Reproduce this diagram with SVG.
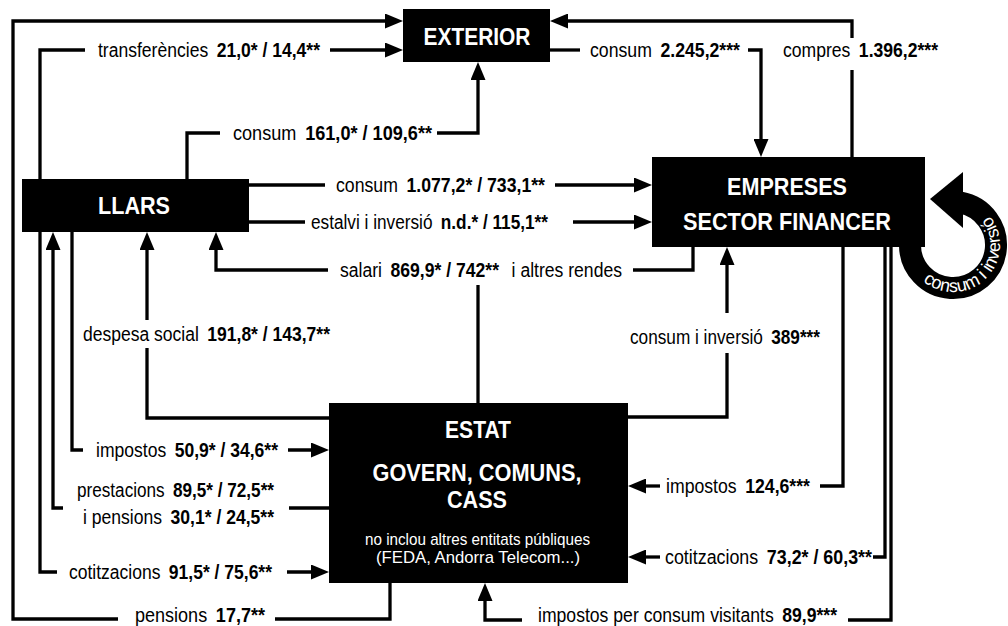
<svg xmlns="http://www.w3.org/2000/svg" width="1008" height="626" viewBox="0 0 1008 626">
<style>
.ln{fill:none;stroke:#000;stroke-width:3.3;stroke-linecap:butt;stroke-linejoin:miter}
.ar{marker-end:url(#ah)}
.lb{font-family:"Liberation Sans",Arial,sans-serif;font-size:19.5px;fill:#000}
.b{font-weight:bold}
.nt{font-family:"Liberation Sans",Arial,sans-serif;font-weight:bold;font-size:23.5px;fill:#fff;text-anchor:middle}
.ns{font-family:"Liberation Sans",Arial,sans-serif;font-size:17px;fill:#fff;text-anchor:middle}
.box{fill:#000}
</style>
<defs>
<marker id="ah" viewBox="0 0 18 15" refX="13" refY="7.5" markerWidth="18" markerHeight="15" markerUnits="userSpaceOnUse" orient="auto"><path d="M0,0 L18,7.5 L0,15 z" fill="#000"/></marker>
<path id="loopText" d="M922.8,281 A47,47 0 0 0 987.9,213.5"/>
</defs>
<rect width="1008" height="626" fill="#fff"/>

<g id="connectors">
<path class="ln" d="M390,583 V619 H275"/>
<path class="ln ar" d="M118,619 H13 V21 H398"/>
<path class="ln" d="M40,179 V50 H85"/>
<path class="ln ar" d="M330,50 H398"/>
<path class="ln" d="M187,179 V133 H220"/>
<path class="ln ar" d="M437,133 H478 V67"/>
<path class="ln" d="M550,50 H580"/>
<path class="ln ar" d="M748,50 H761 V152"/>
<path class="ln" d="M852,157 V70"/>
<path class="ln ar" d="M852,38 V21 H555"/>
<path class="ln" d="M249,185 H325"/>
<path class="ln ar" d="M555,185 H647"/>
<path class="ln" d="M249,222 H305"/>
<path class="ln ar" d="M573,222 H647"/>
<path class="ln" d="M693,247 V270 H633"/>
<path class="ln ar" d="M328,270 H216 V237"/>
<path class="ln" d="M478,403 V285"/>
<path class="ln" d="M329,418 H147 V348"/>
<path class="ln ar" d="M147,320 V237"/>
<path class="ln" d="M628,417 H727 V353"/>
<path class="ln ar" d="M727,313 V252"/>
<path class="ln" d="M72,232 V450 H83"/>
<path class="ln ar" d="M288,450 H324"/>
<path class="ln" d="M329,508 H289"/>
<path class="ln ar" d="M63,508 H53 V237"/>
<path class="ln" d="M40,232 V572 H57"/>
<path class="ln ar" d="M287,572 H324"/>
<path class="ln" d="M843,247 V486 H820"/>
<path class="ln ar" d="M660,486 H633"/>
<path class="ln" d="M885,247 V557 H873"/>
<path class="ln ar" d="M660,557 H633"/>
<path class="ln" d="M891,247 V620 H848"/>
<path class="ln ar" d="M522,620 H485 V588"/>
<g id="loop">
<path d="M910,245 A43,43 0 1 0 960.5,202.7" fill="none" stroke="#000" stroke-width="22"/>
<polygon points="963,172 963,228 930,199" fill="#000"/>
<text font-family="Liberation Sans,Arial,sans-serif" font-size="18" fill="#fff"><textPath href="#loopText" textLength="138" lengthAdjust="spacingAndGlyphs">consum i inversió</textPath></text>
</g>
</g>

<g id="connector-labels">
<text class="lb" x="98" y="57" textLength="222" lengthAdjust="spacingAndGlyphs">transferències <tspan class="b" dx="4">21,0* / 14,4**</tspan></text>
<text class="lb" x="233" y="140" textLength="199" lengthAdjust="spacingAndGlyphs">consum <tspan class="b" dx="4">161,0* / 109,6**</tspan></text>
<text class="lb" x="590" y="57" textLength="150" lengthAdjust="spacingAndGlyphs">consum <tspan class="b" dx="4">2.245,2***</tspan></text>
<text class="lb" x="783" y="57" textLength="155" lengthAdjust="spacingAndGlyphs">compres <tspan class="b" dx="4">1.396,2***</tspan></text>
<text class="lb" x="336" y="192" textLength="209" lengthAdjust="spacingAndGlyphs">consum <tspan class="b" dx="4">1.077,2* / 733,1**</tspan></text>
<text class="lb" x="311" y="229" textLength="237" lengthAdjust="spacingAndGlyphs">estalvi i inversió <tspan class="b" dx="4">n.d.* / 115,1**</tspan></text>
<text class="lb" x="340" y="277" textLength="282" lengthAdjust="spacingAndGlyphs">salari <tspan class="b" dx="4">869,9* / 742**</tspan><tspan dx="14">i altres rendes</tspan></text>
<text class="lb" x="83" y="341" textLength="247" lengthAdjust="spacingAndGlyphs">despesa social <tspan class="b" dx="4">191,8* / 143,7**</tspan></text>
<text class="lb" x="630" y="344" textLength="190" lengthAdjust="spacingAndGlyphs">consum i inversió <tspan class="b" dx="4">389***</tspan></text>
<text class="lb" x="96" y="457" textLength="182" lengthAdjust="spacingAndGlyphs">impostos <tspan class="b" dx="4">50,9* / 34,6**</tspan></text>
<text class="lb" x="77" y="497" textLength="197" lengthAdjust="spacingAndGlyphs">prestacions <tspan class="b" dx="4">89,5* / 72,5**</tspan></text>
<text class="lb" x="83" y="524" textLength="191" lengthAdjust="spacingAndGlyphs">i pensions <tspan class="b" dx="4">30,1* / 24,5**</tspan></text>
<text class="lb" x="69" y="579" textLength="203" lengthAdjust="spacingAndGlyphs">cotitzacions <tspan class="b" dx="4">91,5* / 75,6**</tspan></text>
<text class="lb" x="135" y="622" textLength="130" lengthAdjust="spacingAndGlyphs">pensions <tspan class="b" dx="4">17,7**</tspan></text>
<text class="lb" x="666" y="493" textLength="144" lengthAdjust="spacingAndGlyphs">impostos <tspan class="b" dx="4">124,6***</tspan></text>
<text class="lb" x="665" y="564" textLength="207" lengthAdjust="spacingAndGlyphs">cotitzacions <tspan class="b" dx="4">73,2* / 60,3**</tspan></text>
<text class="lb" x="538" y="622" textLength="299" lengthAdjust="spacingAndGlyphs">impostos per consum visitants <tspan class="b" dx="4">89,9***</tspan></text>
</g>

<g id="node-exterior">
<rect class="box" x="403" y="9" width="147" height="53"/>
<text class="nt" x="477" y="45" textLength="107" lengthAdjust="spacingAndGlyphs">EXTERIOR</text>
</g>
<g id="node-llars">
<rect class="box" x="22" y="179" width="227" height="53"/>
<text class="nt" x="134" y="214" textLength="72" lengthAdjust="spacingAndGlyphs">LLARS</text>
</g>
<g id="node-empreses">
<rect class="box" x="652" y="157" width="273" height="90"/>
<text class="nt" x="787" y="195" textLength="120" lengthAdjust="spacingAndGlyphs">EMPRESES</text>
<text class="nt" x="787" y="230" textLength="208" lengthAdjust="spacingAndGlyphs">SECTOR FINANCER</text>
</g>
<g id="node-estat">
<rect class="box" x="329" y="403" width="299" height="180"/>
<text class="nt" x="478" y="438" textLength="66" lengthAdjust="spacingAndGlyphs">ESTAT</text>
<text class="nt" x="477" y="481" textLength="209" lengthAdjust="spacingAndGlyphs">GOVERN, COMUNS,</text>
<text class="nt" x="477" y="508" textLength="60" lengthAdjust="spacingAndGlyphs">CASS</text>
<text class="ns" x="477.5" y="545" textLength="225" lengthAdjust="spacingAndGlyphs">no inclou altres entitats públiques</text>
<text class="ns" x="478" y="563" textLength="204" lengthAdjust="spacingAndGlyphs">(FEDA, Andorra Telecom...)</text>
</g>
</svg>
